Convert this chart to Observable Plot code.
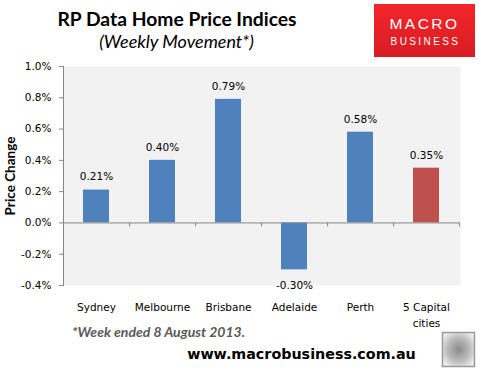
<!DOCTYPE html>
<html><head><meta charset="utf-8">
<script src="https://cdn.jsdelivr.net/npm/d3@7"></script>
<script src="https://cdn.jsdelivr.net/npm/@observablehq/plot@0.6"></script>
<style>
html,body{margin:0;padding:0;background:#fff;}
#wrap{position:relative;width:481px;height:375px;overflow:hidden;}
#chart{position:absolute;left:0;top:0;}
#over{position:absolute;left:0;top:0;pointer-events:none;}
</style></head><body>
<div id="wrap">
<div id="chart"></div>
<svg id="over" width="481" height="375" xmlns="http://www.w3.org/2000/svg">
  <defs>
    <linearGradient id="red" x1="0" y1="0" x2="0" y2="1">
      <stop offset="0" stop-color="#f2262c"/>
      <stop offset="1" stop-color="#d91c22"/>
    </linearGradient>
    <radialGradient id="fox" cx="0.5" cy="0.5" r="0.6">
      <stop offset="0" stop-color="#8a8a8a"/>
      <stop offset="0.6" stop-color="#bdbdbd"/>
      <stop offset="1" stop-color="#eeeeee"/>
    </radialGradient>
  </defs>
  <text x="177" y="26" text-anchor="middle" font-family="Lato" font-weight="bold" font-size="19.3" fill="#000">RP Data Home Price Indices</text>
  <text x="176.5" y="48" text-anchor="middle" font-family="Lato" font-style="italic" font-size="18" fill="#000">(Weekly Movement*)</text>
  <rect x="374" y="4" width="101" height="53" fill="url(#red)"/>
  <text x="424.5" y="29" text-anchor="middle" font-family="Liberation Sans" font-size="15.5" letter-spacing="2.5" fill="#fff">MACRO</text>
  <text x="425.5" y="44.5" text-anchor="middle" font-family="Liberation Sans" font-size="10" letter-spacing="2.4" fill="#fff">BUSINESS</text>
  <text transform="translate(14.5,176) rotate(-90)" text-anchor="middle" font-family="Lato" font-weight="bold" font-size="13.5" fill="#000">Price Change</text>
  <text x="72" y="337" font-family="Lato" font-weight="bold" font-style="italic" font-size="14" fill="#595959">*Week ended 8 August 2013.</text>
  <text x="301.5" y="358.5" text-anchor="middle" font-family="DejaVu Sans" font-weight="bold" font-size="14.3" fill="#000">www.macrobusiness.com.au</text>
  <rect x="442.5" y="332.5" width="32" height="34" fill="url(#fox)" stroke="#9a9a9a" stroke-width="1.5"/>
</svg>
</div>
<script>
const categories = ["Sydney", "Melbourne", "Brisbane", "Adelaide", "Perth", "5 Capital cities"];
const values = [0.21, 0.40, 0.79, -0.30, 0.58, 0.35];
const yTicks = [-0.4, -0.2, 0.0, 0.2, 0.4, 0.6, 0.8, 1.0];

const data = categories.map((city, i) => ({city, value: values[i]}));
const blue = "#4f81bd", red = "#c0504d", axisGray = "#868686";
const W = 481, H = 375, mL = 63, mR = 21, mT = 66, mB = 90;
const step = (W - mL - mR) / categories.length;
const label = d => d.replace(" cities", "\ncities");

const chart = Plot.plot({
  width: W, height: H,
  marginLeft: mL, marginRight: mR, marginTop: mT, marginBottom: mB,
  style: {fontFamily: "DejaVu Sans", fontSize: "10.5px", background: "transparent", color: "#000"},
  x: {domain: categories, paddingInner: 0.6, paddingOuter: 0.3, axis: null},
  y: {domain: [-0.4, 1.0]},
  marks: [
    Plot.frame({fill: "#f2f2f2", stroke: null}),
    Plot.barY(data, {x: "city", y: "value", fill: d => d.city === "5 Capital cities" ? red : blue}),
    Plot.ruleY([0], {stroke: axisGray, strokeWidth: 1}),
    Plot.ruleX(categories, {x: d => d, y1: 0, y2: 0, insetBottom: -4, dx: step / 2, stroke: axisGray}),
    Plot.frame({anchor: "left", stroke: axisGray}),
    Plot.axisY({ticks: yTicks, tickSize: 4, tickPadding: 8, tickFormat: d => d.toFixed(1) + "%", stroke: axisGray, color: "#000", label: null}),
    Plot.text(data.filter(d => d.value >= 0), {x: "city", y: "value", text: d => d.value.toFixed(2) + "%", dy: -13, fill: "#000"}),
    Plot.text(data.filter(d => d.value < 0), {x: "city", y: "value", text: d => d.value.toFixed(2) + "%", dy: 15.5, fill: "#000"}),
    Plot.text(categories, {x: d => d, text: label, frameAnchor: "bottom", lineAnchor: "top", dy: 14, lineHeight: 1.52, fill: "#000"})
  ]
});
document.getElementById("chart").appendChild(chart);
</script>
</body></html>
